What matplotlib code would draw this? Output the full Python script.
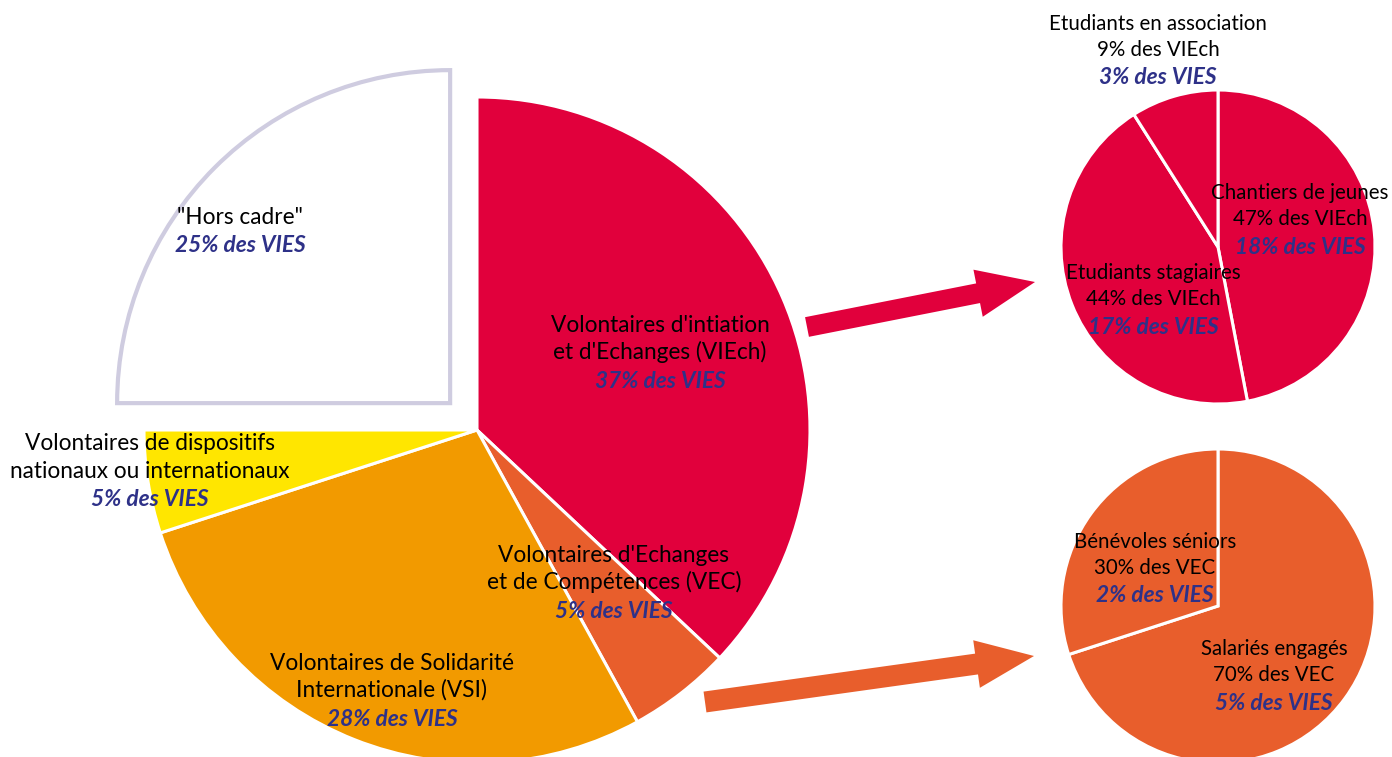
import matplotlib.pyplot as plt

# data
main_labels = ["Volontaires d'intiation\net d'Echanges (VIEch)",
               "Volontaires d'Echanges\net de Compétences (VEC)",
               "Volontaires de Solidarité\nInternationale (VSI)",
               "Volontaires de dispositifs\nnationaux ou internationaux",
               '"Hors cadre"']
main_values = [37, 5, 28, 5, 25]
main_colors = ['#E1003C', '#E85E2C', '#F29A00', '#FFE600', 'white']

viech_labels = ['Chantiers de jeunes', 'Etudiants stagiaires', 'Etudiants en association']
viech_values = [47, 44, 9]
viech_vies = [18, 17, 3]

vec_labels = ['Salariés engagés', 'Bénévoles séniors']
vec_values = [70, 30]
vec_vies = [5, 2]

W, H = 1392, 757
BLUE = '#2E3188'
FONT = 'Lato'

fig = plt.figure(figsize=(W / 100, H / 100), dpi=100)
ax = fig.add_axes([0, 0, 1, 1])

edge = dict(edgecolor='white', linewidth=2.2)

# main pie (explode is in data units here)
wedges, _ = ax.pie(main_values, colors=main_colors, startangle=90, counterclock=False,
                   center=(477, H - 430), radius=333, explode=[0, 0, 0, 0, 38],
                   wedgeprops=edge, frame=True)
wedges[4].set_edgecolor('#CFCCE0')
wedges[4].set_linewidth(3)

# VIEch detail
ax.pie(viech_values, colors=['#E1003C'] * 3, startangle=90, counterclock=False,
       center=(1218, H - 247), radius=157, wedgeprops=edge, frame=True)

# VEC detail
ax.pie(vec_values, colors=['#E85E2C'] * 2, startangle=90, counterclock=False,
       center=(1218, H - 606), radius=157, wedgeprops=edge, frame=True)

# arrows
ax.arrow(807, H - 327, 228, 45, width=20, head_width=48, head_length=58,
         length_includes_head=True, color='#E1003C', lw=0)
ax.arrow(705, H - 702, 329, 46, width=21, head_width=48, head_length=58,
         length_includes_head=True, color='#E85E2C', lw=0)


def label(x, y, lines, vies, gap=27, fs=16.3):
    n = len(lines)
    for i, t in enumerate(lines):
        ax.text(x, H - (y + i * gap), t, ha='center', va='center',
                fontsize=fs, family=FONT, color='black')
    ax.text(x, H - (y + n * gap + 2), vies, ha='center', va='center',
            fontsize=16.3, family=FONT, color=BLUE, weight='bold', style='italic')


label(660, 325, main_labels[0].split('\n'), f'{main_values[0]}% des VIES')
label(614, 555, main_labels[1].split('\n'), f'{main_values[1]}% des VIES')
label(392, 663, main_labels[2].split('\n'), f'{main_values[2]}% des VIES')
label(150, 444, main_labels[3].split('\n'), f'{main_values[3]}% des VIES')
label(240, 217, [main_labels[4]], f'{main_values[4]}% des VIES')

small = dict(gap=26, fs=14.8)
label(1300, 193, [viech_labels[0], f'{viech_values[0]}% des VIEch'], f'{viech_vies[0]}% des VIES', **small)
label(1153, 273, [viech_labels[1], f'{viech_values[1]}% des VIEch'], f'{viech_vies[1]}% des VIES', **small)
label(1158, 24, [viech_labels[2], f'{viech_values[2]}% des VIEch'], f'{viech_vies[2]}% des VIES', **small)

label(1274, 649, [vec_labels[0], f'{vec_values[0]}% des VEC'], f'{vec_vies[0]}% des VIES', **small)
label(1155, 542, [vec_labels[1], f'{vec_values[1]}% des VEC'], f'{vec_vies[1]}% des VIES', **small)

ax.set_xlim(0, W)
ax.set_ylim(0, H)
ax.set_aspect('equal')
ax.axis('off')

fig.savefig('out.png', dpi=100)
